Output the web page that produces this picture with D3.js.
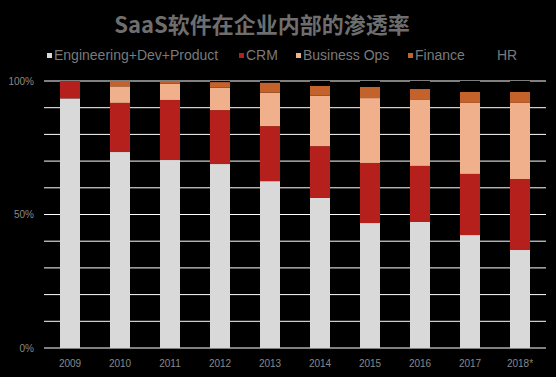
<!DOCTYPE html>
<html>
<head>
<meta charset="utf-8">
<script src="https://d3js.org/d3.v7.min.js"></script>
<style>
    body { margin: 0; background: #000; }
    svg text { font-family: "Liberation Sans", Arial, sans-serif; fill: #888; }
</style>
</head>
<body>
<script>
    // values, in percent
    const years = ["2009", "2010", "2011", "2012", "2013", "2014", "2015", "2016", "2017", "2018*"];
    const engineering = [93.5, 73.4, 70.4, 68.9, 62.5, 56.3, 46.8, 47.2, 42.3, 36.7];
    const crm = [6.5, 18.4, 22.5, 20.2, 20.6, 19.3, 22.5, 21.0, 22.9, 26.6];
    const businessOps = [0, 6.2, 6.1, 8.4, 12.5, 18.9, 24.3, 24.7, 26.6, 28.5];
    const finance = [0, 2.0, 1.0, 2.1, 3.8, 3.7, 4.2, 4.1, 4.1, 4.1];
    const hr = [0, 0, 0, 0.4, 0.6, 1.8, 2.2, 3.0, 4.1, 4.1];
    const yTicks = [0, 50, 100];

    const seriesNames = ["Engineering+Dev+Product", "CRM", "Business Ops", "Finance", "HR"];
    const seriesValues = [engineering, crm, businessOps, finance, hr];
    const colors = ["#d9d9d9", "#b5201c", "#efb08b", "#c4622b", "#000000"];

    const width = 556, height = 377;
    const svg = d3.select("body").append("svg")
        .attr("width", width)
        .attr("height", height);

    svg.append("rect").attr("width", width).attr("height", height).attr("fill", "#000");

    // title
    svg.append("text")
        .attr("x", 262)
        .attr("y", 33)
        .attr("text-anchor", "middle")
        .style("font-family", "'Noto Sans CJK SC', sans-serif")
        .style("font-size", "22px")
        .style("font-weight", "bold")
        .style("fill", "#6e6e6e")
        .text("SaaS软件在企业内部的渗透率");

    // legend
    const legendX = [47, 239, 296, 408, 490];
    const legend = svg.selectAll(".legend")
        .data(seriesNames)
        .enter()
        .append("g")
        .attr("transform", (d, i) => "translate(" + legendX[i] + ",58)");
    legend.append("rect")
        .attr("y", -5)
        .attr("width", 5)
        .attr("height", 5)
        .attr("fill", (d, i) => colors[i]);
    legend.append("text")
        .attr("x", 7)
        .attr("y", 0)
        .attr("dy", "0.15em")
        .style("font-size", "14px")
        .style("fill", "#7a7a7a")
        .text(d => d);

    const x = d3.scaleBand()
        .domain(years)
        .range([45, 545])
        .paddingInner(0.6)
        .paddingOuter(0.3);

    const y = d3.scaleLinear()
        .domain([0, 100])
        .range([348, 81]);

    // grid lines every 10%
    svg.selectAll(".grid")
        .data(d3.range(0, 101, 10))
        .enter()
        .append("line")
        .attr("x1", 44)
        .attr("x2", 546)
        .attr("y1", d => y(d))
        .attr("y2", d => y(d))
        .attr("stroke", "#ffffff")
        .attr("stroke-width", 1);

    // y labels
    svg.selectAll(".ylab")
        .data(yTicks)
        .enter()
        .append("text")
        .attr("x", 34)
        .attr("y", d => y(d))
        .attr("dy", "0.35em")
        .attr("text-anchor", "end")
        .style("font-size", "10px")
        .text(d => d + "%");

    // stacked bars
    const table = years.map((yr, i) => {
        const row = { year: yr };
        seriesNames.forEach((s, j) => { row[s] = seriesValues[j][i]; });
        return row;
    });
    const stacked = d3.stack().keys(seriesNames)(table);

    svg.selectAll(".series")
        .data(stacked)
        .enter()
        .append("g")
        .attr("fill", (d, i) => colors[i])
        .selectAll("rect")
        .data(d => d)
        .enter()
        .append("rect")
        .attr("x", d => x(d.data.year))
        .attr("width", x.bandwidth())
        .attr("y", d => y(d[1]))
        .attr("height", d => y(d[0]) - y(d[1]));

    // year labels
    svg.selectAll(".xlab")
        .data(years)
        .enter()
        .append("text")
        .attr("x", d => x(d) + x.bandwidth() / 2)
        .attr("y", 367)
        .attr("text-anchor", "middle")
        .style("font-size", "10px")
        .text(d => d);
</script>
</body>
</html>
